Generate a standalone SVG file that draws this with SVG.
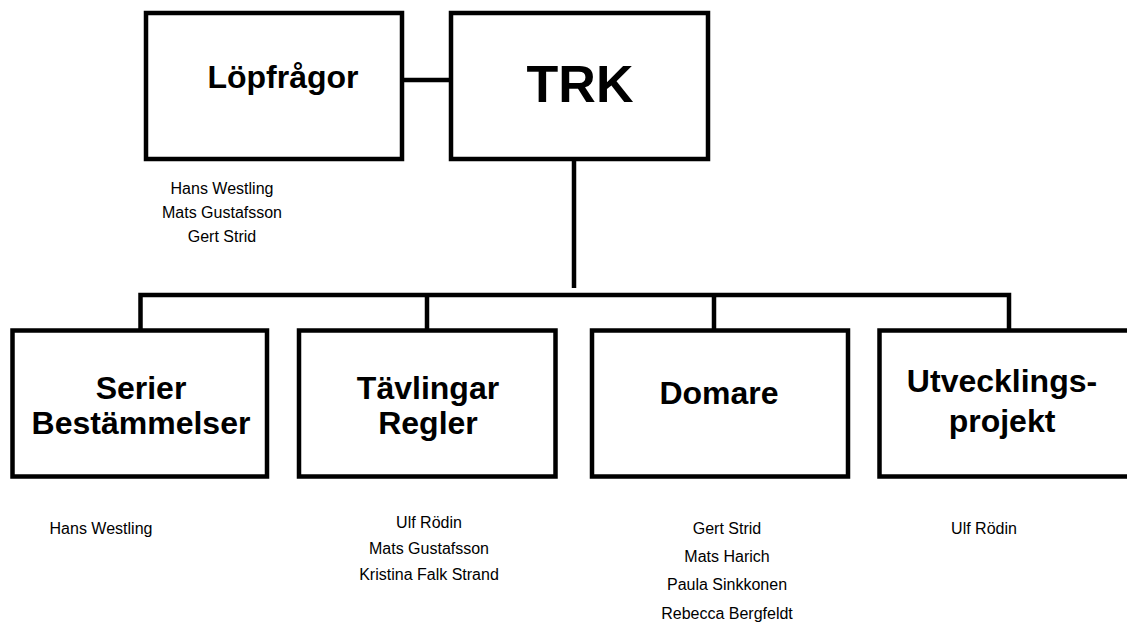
<svg xmlns="http://www.w3.org/2000/svg" width="1127" height="622" viewBox="0 0 1127 622">
<style>
.box{fill:#fff;stroke:#000;stroke-width:4.5}
.line{fill:none;stroke:#000;stroke-width:4.5}
.t{font-family:"Liberation Sans",Arial,sans-serif;font-weight:bold;font-size:32px;text-anchor:middle;fill:#000}
.big{font-family:"Liberation Sans",Arial,sans-serif;font-weight:bold;font-size:52px;text-anchor:middle;fill:#000}
.n{font-family:"Liberation Sans",Arial,sans-serif;font-size:16px;text-anchor:middle;fill:#000}
</style>
<rect width="1127" height="622" fill="#fff"/>
<g id="connectors">
<path class="line" d="M402 80H451"/>
<path class="line" d="M574 159V288"/>
<path class="line" d="M140.5 330V295H1009V330"/>
<path class="line" d="M427 295V330"/>
<path class="line" d="M714 295V330"/>
</g>
<g id="lopfragor">
<rect class="box" x="146" y="13" width="256" height="146"/>
<text class="t" x="283" y="88">Löpfrågor</text>
<text class="n" x="222" y="194">Hans Westling</text>
<text class="n" x="222" y="218">Mats Gustafsson</text>
<text class="n" x="222" y="242">Gert Strid</text>
</g>
<g id="trk">
<rect class="box" x="451" y="13" width="257" height="146"/>
<text class="big" x="580" y="102">TRK</text>
</g>
<g id="serier">
<rect class="box" x="12.5" y="330.5" width="254.5" height="146"/>
<text class="t" x="141" y="399">Serier</text>
<text class="t" x="141" y="434">Bestämmelser</text>
<text class="n" x="101" y="534">Hans Westling</text>
</g>
<g id="tavlingar">
<rect class="box" x="299" y="330.5" width="256.5" height="146"/>
<text class="t" x="428" y="399">Tävlingar</text>
<text class="t" x="428" y="434">Regler</text>
<text class="n" x="429" y="528">Ulf Rödin</text>
<text class="n" x="429" y="554">Mats Gustafsson</text>
<text class="n" x="429" y="580">Kristina Falk Strand</text>
</g>
<g id="domare">
<rect class="box" x="592" y="330.5" width="256" height="146"/>
<text class="t" x="719" y="404">Domare</text>
<text class="n" x="727" y="534">Gert Strid</text>
<text class="n" x="727" y="562">Mats Harich</text>
<text class="n" x="727" y="590">Paula Sinkkonen</text>
<text class="n" x="727" y="619">Rebecca Bergfeldt</text>
</g>
<g id="utvecklings">
<rect class="box" x="879.5" y="330.5" width="256" height="146"/>
<text class="t" x="1002" y="392">Utvecklings-</text>
<text class="t" x="1002" y="432">projekt</text>
<text class="n" x="984" y="534">Ulf Rödin</text>
</g>
</svg>
